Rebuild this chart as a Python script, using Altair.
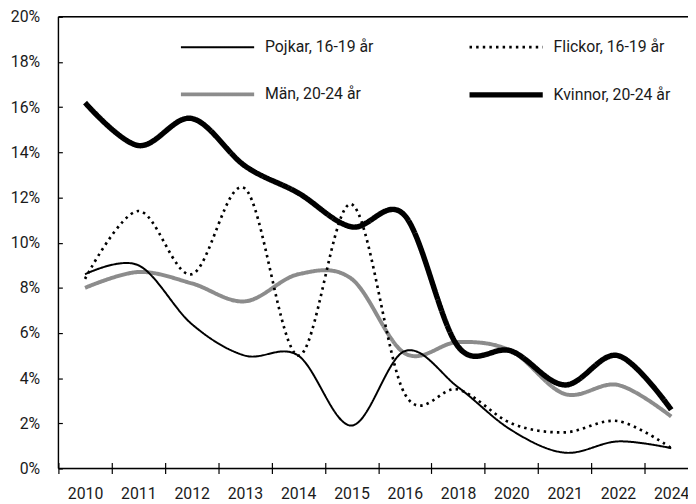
import altair as alt
import pandas as pd

years = ["2010", "2011", "2012", "2013", "2014", "2015", "2016", "2018", "2020", "2021", "2022", "2024"]
# legend order (laid out column by column): Pojkar, Män | Flickor, Kvinnor
series_names = ["Pojkar, 16-19 år", "Män, 20-24 år", "Flickor, 16-19 år", "Kvinnor, 20-24 år"]
series_colors = ["#000000", "#8c8c8c", "#000000", "#000000"]
series_widths = [2, 4, 2.7, 5.5]
series_dashes = [[1, 0], [1, 0], [2.5, 4.2], [1, 0]]

pojkar = [8.6, 9.0, 6.4, 5.0, 5.0, 1.9, 5.2, 3.6, 1.7, 0.7, 1.2, 0.9]
flickor = [8.4, 11.4, 8.6, 12.4, 5.0, 11.7, 3.3, 3.5, 2.0, 1.6, 2.1, 0.9]
man = [8.0, 8.7, 8.2, 7.4, 8.6, 8.4, 5.1, 5.6, 5.2, 3.3, 3.7, 2.3]
kvinnor = [16.2, 14.3, 15.5, 13.4, 12.2, 10.7, 11.2, 5.4, 5.2, 3.7, 5.0, 2.6]

y_ticks = [0, 0.02, 0.04, 0.06, 0.08, 0.10, 0.12, 0.14, 0.16, 0.18, 0.20]

# drawing order: grey first, then dotted, thin, thick
draw_order = [("Män, 20-24 år", man), ("Flickor, 16-19 år", flickor),
              ("Pojkar, 16-19 år", pojkar), ("Kvinnor, 20-24 år", kvinnor)]
rows = []
for name, vals in draw_order:
    for yr, v in zip(years, vals):
        rows.append({"year": yr, "serie": name, "value": v / 100.0})
df = pd.DataFrame(rows)

FONT = "Roboto"
W = 637
H = 457


def leg():
    return alt.Legend(title=None, orient="none", legendX=121, legendY=-8,
                      columns=2, columnPadding=85, rowPadding=0,
                      symbolType="stroke", symbolSize=5490, labelOffset=8,
                      labelFont=FONT, labelFontSize=16, labelColor="#1a1a1a",
                      padding=0)


x_enc = alt.X("year:N", sort=years,
              scale=alt.Scale(domain=years, range=[0, 647], paddingInner=0, paddingOuter=0),
              axis=alt.Axis(title=None, labelAngle=0, tickBand="extent", domain=False,
                            offset=-6, tickSize=11, tickColor="#000", tickWidth=1.2,
                            labelFont=FONT, labelFontSize=16, labelColor="#1a1a1a",
                            labelPadding=12))

y_enc = alt.Y("value:Q",
              scale=alt.Scale(domain=[0, 0.2], nice=False),
              axis=alt.Axis(title=None, format=".0%", values=y_ticks, domain=False,
                            offset=-4, tickSize=4, tickColor="#000", tickWidth=1.2,
                            labelFont=FONT, labelFontSize=16, labelColor="#1a1a1a",
                            labelPadding=19, grid=False))

lines = alt.Chart(df).mark_line(interpolate="cardinal").encode(
    x=x_enc,
    y=y_enc,
    color=alt.Color("serie:N", scale=alt.Scale(domain=series_names, range=series_colors),
                    legend=leg()),
    strokeDash=alt.StrokeDash("serie:N", scale=alt.Scale(type="ordinal", domain=series_names,
                                                         range=series_dashes),
                              legend=leg()),
    strokeWidth=alt.StrokeWidth("serie:N", scale=alt.Scale(type="ordinal", domain=series_names,
                                                           range=series_widths),
                                legend=leg()),
    detail="serie:N",
)

frame_left = alt.Chart().mark_rule(color="#000", strokeWidth=1.4).encode(
    x=alt.value(0), y=alt.value(0), y2=alt.value(H))
frame_bottom = alt.Chart().mark_rule(color="#000", strokeWidth=1.4).encode(
    x=alt.value(0), x2=alt.value(W), y=alt.value(H))
frame_top = alt.Chart().mark_rule(color="#000", strokeWidth=1.4).encode(
    x=alt.value(0), x2=alt.value(W), y=alt.value(0))

chart = alt.layer(lines, frame_left, frame_bottom, frame_top).properties(
    width=W, height=H,
    autosize=alt.AutoSizeParams(type="none"),
    padding={"left": 51, "top": 6, "right": 0, "bottom": 32},
).configure_view(stroke=None).configure(background="white")

chart.save("out.html", embed_options={"renderer": "svg", "actions": False})
